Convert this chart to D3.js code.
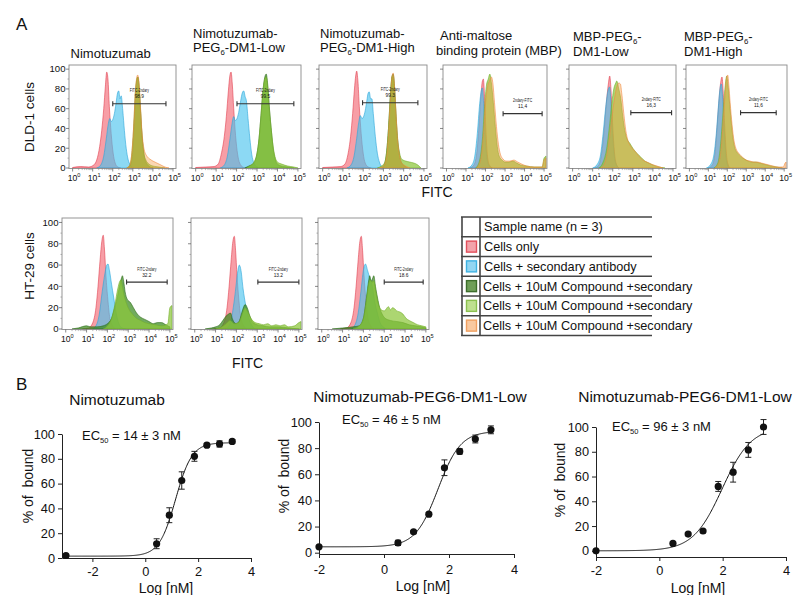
<!DOCTYPE html>
<html><head><meta charset="utf-8">
<script src="https://cdn.jsdelivr.net/npm/d3@7"></script>
<style>
body{margin:0;background:#fff}
svg{display:block}
text{font-family:"Liberation Sans",Arial,sans-serif;fill:#111}
</style>
</head><body>
<svg id="c" width="794" height="595"></svg>
<script>
// ================= DATA =================
// Panel A, DLD-1 row (x = log10 FITC, y = % of max)
const dldTitles = [["Nimotuzumab"],["Nimotuzumab-","PEG_6-DM1-Low"],["Nimotuzumab-","PEG_6-DM1-High"],["Anti-maltose","binding protein (MBP)"],["MBP-PEG_6-","DM1-Low"],["MBP-PEG_6-","DM1-High"]];
const dldGateNames = ["FITC-2ndary","FITC-2ndary","FITC-2ndary","2ndary-FITC","2ndary-FITC","2ndary-FITC"];
const dldGateValues = ["98.9","99.5","99.3","11,4","16,3","11,6"];
const dldGateRange = [[2.0,4.65],[2.02,4.8],[1.97,4.7],[2.9,4.9],[2.9,4.93],[2.7,4.58]];
const dldGateLevel = [65,65,66,55,56,56];

const dldRed = [
 [[0,0.5],[0.4,1.5],[0.8,1],[1.05,3],[1.2,8],[1.35,22],[1.45,38],[1.55,60],[1.63,82],[1.7,97],[1.76,90],[1.83,62],[1.92,35],[2.02,15],[2.12,5],[2.25,1],[2.4,0]],
 [[0,0.5],[0.5,1],[0.9,1.5],[1.1,4],[1.25,14],[1.4,32],[1.5,52],[1.6,78],[1.67,93],[1.73,97],[1.79,85],[1.86,60],[1.95,33],[2.05,14],[2.15,5],[2.3,1],[2.45,0]],
 [[0,0.5],[0.5,1],[0.9,1.5],[1.1,4],[1.25,14],[1.38,32],[1.48,55],[1.57,80],[1.63,93],[1.68,98],[1.74,88],[1.81,62],[1.9,35],[2.0,15],[2.1,5],[2.25,1],[2.4,0]],
 [[1.2,0],[1.4,3],[1.55,15],[1.65,38],[1.75,68],[1.83,87],[1.89,90],[1.95,72],[2.02,38],[2.1,12],[2.2,3],[2.35,0]],
 [[1.1,0],[1.3,3],[1.45,15],[1.57,38],[1.68,65],[1.78,85],[1.85,93],[1.91,80],[1.98,50],[2.06,22],[2.15,6],[2.3,0]],
 [[1.0,0],[1.2,3],[1.35,15],[1.45,38],[1.55,65],[1.64,85],[1.72,92],[1.78,78],[1.85,48],[1.93,20],[2.02,5],[2.15,0]]
];
const dldBlue = [
 [[1.2,0],[1.4,3],[1.55,12],[1.68,30],[1.78,45],[1.85,50],[1.93,47],[2.0,49],[2.08,55],[2.16,65],[2.24,76],[2.3,78],[2.36,70],[2.42,73],[2.5,58],[2.58,38],[2.67,20],[2.76,9],[2.88,3],[3.05,0]],
 [[1.2,0],[1.4,3],[1.55,12],[1.68,30],[1.78,45],[1.86,52],[1.94,48],[2.02,50],[2.1,56],[2.2,68],[2.28,76],[2.35,78],[2.42,72],[2.48,68],[2.56,50],[2.65,30],[2.74,14],[2.85,5],[3.0,1],[3.15,0]],
 [[1.2,0],[1.4,3],[1.55,12],[1.68,30],[1.78,46],[1.86,53],[1.94,50],[2.02,52],[2.1,58],[2.18,68],[2.25,76],[2.3,77],[2.37,70],[2.43,70],[2.5,55],[2.6,32],[2.7,15],[2.8,6],[2.95,1],[3.1,0]],
 [[1.1,0],[1.3,3],[1.45,12],[1.58,35],[1.7,65],[1.78,78],[1.84,81],[1.91,62],[1.98,32],[2.06,12],[2.16,3],[2.3,0]],
 [[1.0,0],[1.2,3],[1.38,12],[1.52,35],[1.65,62],[1.76,78],[1.84,82],[1.9,70],[1.97,42],[2.05,18],[2.14,5],[2.3,0]],
 [[0.9,0],[1.1,3],[1.28,12],[1.42,35],[1.52,60],[1.6,78],[1.68,85],[1.75,72],[1.82,45],[1.9,18],[1.98,5],[2.1,0]]
];
const dldDarkGreen = [
 [[2.75,0],[2.9,4],[3.0,20],[3.08,50],[3.15,78],[3.21,90],[3.25,92],[3.31,82],[3.38,58],[3.46,32],[3.55,14],[3.65,6],[3.8,2],[4.0,0]],
 [[2.4,0],[2.6,2],[2.8,4],[2.95,10],[3.1,30],[3.2,55],[3.3,80],[3.38,92],[3.45,95],[3.52,85],[3.6,62],[3.7,38],[3.8,18],[3.9,8],[4.0,4],[4.2,2],[4.5,1],[4.8,0]],
 [[2.9,0],[3.05,4],[3.15,15],[3.25,40],[3.35,75],[3.42,92],[3.48,95],[3.55,80],[3.62,52],[3.7,28],[3.8,12],[3.9,5],[4.05,2],[4.2,0]],
 null, null, null
];
const dldLightGreen = [
 [[2.7,0],[2.85,3],[2.95,15],[3.05,45],[3.12,75],[3.2,90],[3.25,92],[3.3,85],[3.38,60],[3.45,35],[3.55,15],[3.65,8],[3.8,4],[4.0,2],[4.3,1],[4.6,0]],
 [[2.5,0],[2.7,3],[2.85,6],[3.0,15],[3.1,30],[3.2,55],[3.3,80],[3.38,90],[3.45,92],[3.52,82],[3.6,60],[3.7,38],[3.8,20],[3.9,10],[4.0,6],[4.2,4],[4.5,2],[4.8,1],[5.0,0]],
 [[2.7,0],[2.9,2],[3.05,5],[3.15,15],[3.25,40],[3.35,75],[3.42,92],[3.48,94],[3.55,80],[3.62,55],[3.7,30],[3.8,15],[3.9,9],[4.1,7],[4.3,6],[4.5,5],[4.7,3],[4.85,0]],
 [[1.5,0],[1.7,8],[1.85,32],[1.95,62],[2.05,84],[2.14,90],[2.22,95],[2.3,86],[2.4,66],[2.5,42],[2.6,22],[2.7,12],[2.85,8],[3.0,6],[3.2,6],[3.4,7],[3.6,5],[3.8,3],[4.1,2],[4.5,1],[4.9,1],[5.0,10],[5.1,12]],
 [[1.3,0],[1.5,5],[1.7,20],[1.85,45],[1.95,65],[2.05,80],[2.15,86],[2.2,88],[2.3,80],[2.4,70],[2.5,52],[2.6,38],[2.7,30],[2.85,25],[3.0,20],[3.2,15],[3.4,11],[3.6,7],[3.8,5],[4.0,3],[4.3,1],[4.6,0]],
 [[1.3,0],[1.5,5],[1.65,25],[1.75,50],[1.85,75],[1.93,90],[1.97,93],[2.03,85],[2.1,70],[2.2,48],[2.3,30],[2.4,20],[2.55,15],[2.7,12],[2.9,9],[3.1,7],[3.3,6],[3.5,6],[3.7,5],[3.9,4],[4.1,3],[4.3,2],[4.6,1],[4.9,0]]
];
const dldOrange = [
 [[2.7,0],[2.85,3],[2.95,15],[3.05,45],[3.12,75],[3.2,92],[3.24,94],[3.3,88],[3.38,62],[3.45,38],[3.55,20],[3.7,12],[3.85,9],[4.0,7],[4.2,5],[4.4,3],[4.6,1],[4.8,0]],
 null,
 [[2.8,0],[3.0,2],[3.15,10],[3.25,35],[3.35,72],[3.42,92],[3.48,96],[3.55,82],[3.62,55],[3.7,28],[3.8,12],[3.9,5],[4.1,2],[4.3,0]],
 [[1.55,0],[1.75,8],[1.9,35],[2.0,65],[2.1,82],[2.2,88],[2.3,92],[2.38,85],[2.46,66],[2.56,42],[2.66,24],[2.76,14],[2.9,9],[3.05,7],[3.25,7],[3.45,8],[3.65,6],[3.85,4],[4.1,2],[4.5,1],[4.9,1],[5.0,8],[5.1,10]],
 [[1.4,0],[1.6,5],[1.8,25],[1.95,50],[2.1,72],[2.2,82],[2.3,86],[2.38,85],[2.45,75],[2.55,55],[2.65,38],[2.75,28],[2.9,22],[3.1,17],[3.3,12],[3.5,8],[3.7,6],[3.9,4],[4.2,2],[4.5,0]],
 [[1.35,0],[1.55,5],[1.7,25],[1.8,52],[1.9,78],[1.97,92],[2.02,94],[2.08,84],[2.15,66],[2.25,44],[2.35,28],[2.45,20],[2.6,15],[2.8,11],[3.0,8],[3.2,7],[3.4,6],[3.6,6],[3.8,5],[4.0,4],[4.2,3],[4.4,2],[4.7,1],[4.95,1],[5.05,5],[5.1,6]]
];

// Panel A, HT-29 row
const htGateNames = ["FITC-2ndary","FITC-2ndary","FITC-2ndary"];
const htGateValues = ["32.2","13.2","18.6"];
const htGateRange = [[2.92,4.87],[3.03,5.0],[3.0,4.87]];
const htGateLevel = [44,44,44];
const htRed = [
 [[0.8,0],[1.1,1],[1.3,6],[1.45,20],[1.55,40],[1.65,65],[1.73,82],[1.8,88],[1.86,75],[1.93,50],[2.02,28],[2.12,10],[2.25,3],[2.4,0]],
 [[0.9,0],[1.2,1],[1.4,6],[1.55,20],[1.65,40],[1.75,65],[1.83,82],[1.9,87],[1.96,74],[2.03,50],[2.12,27],[2.22,10],[2.35,3],[2.5,0]],
 [[0.9,0],[1.2,1],[1.4,6],[1.55,20],[1.65,40],[1.75,65],[1.83,82],[1.9,87],[1.96,74],[2.03,50],[2.12,27],[2.22,10],[2.35,3],[2.5,0]]
];
const htBlue = [
 [[1.3,0],[1.5,5],[1.62,15],[1.75,35],[1.88,52],[1.97,60],[2.03,61],[2.1,55],[2.2,42],[2.3,30],[2.42,15],[2.55,5],[2.7,1],[2.9,0]],
 [[1.5,0],[1.7,5],[1.85,20],[1.95,35],[2.05,52],[2.14,60],[2.22,55],[2.32,38],[2.45,22],[2.6,10],[2.75,3],[2.9,0]],
 [[1.4,0],[1.6,4],[1.75,15],[1.88,35],[2.0,55],[2.1,61],[2.2,55],[2.3,48],[2.43,40],[2.55,25],[2.67,15],[2.8,6],[2.95,2],[3.1,0]]
];
const htDarkGreen = [
 [[0.3,0],[0.6,1],[1.0,3],[1.2,2],[1.5,2],[1.8,3],[2.0,5],[2.2,10],[2.35,20],[2.5,32],[2.6,42],[2.68,48],[2.72,50],[2.78,45],[2.85,35],[2.95,28],[3.1,25],[3.25,20],[3.4,15],[3.6,11],[3.8,9],[4.0,7],[4.2,5],[4.4,6],[4.6,6],[4.8,4],[5.0,2]],
 [[0.5,0],[0.8,1],[1.0,2],[1.2,4],[1.35,8],[1.5,12],[1.62,14],[1.72,15],[1.8,10],[1.9,6],[2.0,5],[2.15,8],[2.3,18],[2.42,23],[2.52,20],[2.65,12],[2.8,6],[3.0,4],[3.3,3],[3.6,2],[4.0,2],[4.5,1],[5.0,0]],
 [[0.5,0],[1.0,1],[1.5,2],[1.8,3],[2.0,10],[2.15,30],[2.25,45],[2.3,50],[2.38,45],[2.45,48],[2.5,50],[2.58,40],[2.67,30],[2.78,20],[2.9,14],[3.05,10],[3.3,8],[3.6,7],[3.9,6],[4.2,4],[4.5,3],[4.8,2],[5.0,1]]
];
const htLightGreen = [
 [[1.8,0],[2.0,3],[2.2,10],[2.35,22],[2.5,38],[2.6,45],[2.65,46],[2.72,40],[2.8,32],[2.9,25],[3.0,20],[3.2,14],[3.4,10],[3.6,8],[3.8,6],[4.0,5],[4.3,4],[4.6,3],[4.9,5],[5.0,20],[5.1,22]],
 [[1.0,0],[1.3,2],[1.5,5],[1.7,8],[1.9,5],[2.1,6],[2.3,15],[2.42,20],[2.55,16],[2.7,10],[2.9,6],[3.1,5],[3.3,4],[3.5,5],[3.7,3],[3.9,4],[4.1,3],[4.3,4],[4.5,2],[4.8,3],[5.0,6],[5.1,7]],
 [[1.5,0],[1.8,3],[2.0,10],[2.15,28],[2.25,42],[2.32,46],[2.42,44],[2.5,45],[2.6,35],[2.7,25],[2.85,18],[3.0,17],[3.1,19],[3.2,21],[3.3,18],[3.4,20],[3.5,19],[3.6,17],[3.75,16],[3.9,14],[4.05,10],[4.2,8],[4.4,6],[4.6,4],[4.8,3],[5.0,2]]
];

const legendRows = ["Sample name (n = 3)","Cells only","Cells + secondary antibody","Cells + 10uM Compound +secondary","Cells + 10uM Compound +secondary","Cells + 10uM Compound +secondary"];
const logTicks = [0,1,2,3,4,5];
const countTicks = [0,20,40,60,80,100];

// Panel B (x = log [nM], y = % of bound)
const bTitles = ["Nimotuzumab","Nimotuzumab-PEG6-DM1-Low","Nimotuzumab-PEG6-DM1-Low"];
const bEC50 = [14,46,96];
const bEC50err = [3,5,3];
const b1x = [-3,0.43,0.91,1.38,1.86,2.33,2.81,3.29];
const b1y = [2,11.5,34.5,62.5,82,91,92,94];
const b1e = [0,4,6,7,4,1.5,2.5,1.5];
const b2x = [-2,0.43,0.91,1.38,1.86,2.33,2.81,3.29];
const b2y = [4.5,7.5,16,29.5,65,77.5,87,94];
const b2e = [1,2,1,1,6,2,3,3];
const b3x = [-2,0.43,0.91,1.38,1.86,2.33,2.81,3.29];
const b3y = [0,6,13.5,16,52,63.5,81.5,100];
const b3e = [0,1,1,1,4,8,6,6];
// fitted 4-parameter logistic: [bottom, top, hill]
const bFit = [[1.5,93,1.4],[4.5,93,1.25],[0,100,0.95]];
const bXTicks = [-2,0,2,4];
const bYTicks = [0,20,40,60,80,100];

// ================= DRAW =================
const svg = d3.select("#c");
const defs = svg.append("defs");
const COL = {
  red:{fill:"#f2636f",stroke:"#e0404f",op:0.62},
  blue:{fill:"#46c1ee",stroke:"#2aa5d8",op:0.62},
  dg:{fill:"#3a8a1e",stroke:"#2e6a1a",op:0.72},
  lg:{fill:"#8cc63a",stroke:"#74ae2c",op:0.72},
  or:{fill:"#f59a40",stroke:"#ef8a40",op:0.4}
};

function richText(g, x, y, str, size, anchor){
  const t = g.append("text").attr("x",x).attr("y",y).attr("font-size",size).attr("text-anchor",anchor||"start");
  const parts = str.split(/_(\d)/);
  let shifted = false;
  parts.forEach((p,i)=>{
    if(i%2===0){ const ts=t.append("tspan").text(p); if(shifted){ts.attr("dy",-3);shifted=false;} }
    else { t.append("tspan").attr("font-size",size*0.6).attr("dy",3).text(p); shifted=true; }
  });
  return t;
}

let clipId = 0;
function histPanel(x0,x1,y0,y1,series,gate,showYLabels){
  const g = svg.append("g");
  const x = d3.scaleLinear().domain([-0.18,5.15]).range([x0,x1]);
  const yy = d3.scaleLinear().domain([0,100]).range([y1-0.5, y0+ (y1-y0)*0.04]);
  const id = "clip"+(clipId++);
  defs.append("clipPath").attr("id",id).append("rect").attr("x",x0).attr("y",y0).attr("width",x1-x0).attr("height",y1-y0);
  const area = d3.area().x(d=>x(d[0])).y0(yy(0)).y1(d=>yy(d[1])).curve(d3.curveMonotoneX);
  const pg = g.append("g").attr("clip-path","url(#"+id+")");
  series.forEach(s=>{
    if(!s.pts) return;
    pg.append("path").datum(s.pts).attr("d",area)
      .attr("fill",s.c.fill).attr("fill-opacity",s.c.op)
      .attr("stroke",s.c.stroke).attr("stroke-width",0.7).attr("stroke-opacity",0.85);
  });
  // frame
  g.append("rect").attr("x",x0).attr("y",y0).attr("width",x1-x0).attr("height",y1-y0)
    .attr("fill","none").attr("stroke","#8a8a8a").attr("stroke-width",0.9);
  // x ticks
  logTicks.forEach(k=>{
    g.append("line").attr("x1",x(k)).attr("x2",x(k)).attr("y1",y1).attr("y2",y1+3).attr("stroke","#555").attr("stroke-width",0.7);
    const t = g.append("text").attr("x",x(k)+1.5).attr("y",y1+12).attr("text-anchor","middle").attr("font-size",8.6).attr("fill","#222");
    t.append("tspan").text("10");
    t.append("tspan").attr("font-size",5.6).attr("dy",-3.6).text(k);
    if(k<5) for(let m=2;m<10;m++){
      const xm = x(k+Math.log10(m));
      g.append("line").attr("x1",xm).attr("x2",xm).attr("y1",y1).attr("y2",y1+1.6).attr("stroke","#777").attr("stroke-width",0.5);
    }
  });
  countTicks.forEach(v=>{
    g.append("line").attr("x1",x0-3).attr("x2",x0).attr("y1",yy(v)).attr("y2",yy(v)).attr("stroke","#555").attr("stroke-width",0.7);
    if(showYLabels) g.append("text").attr("x",x0-3.5).attr("y",yy(v)+3.3).attr("text-anchor","end").attr("font-size",9.6).attr("fill","#222").text(v);
  });
  for(let v=10; v<100; v+=20){
    g.append("line").attr("x1",x0-1.6).attr("x2",x0).attr("y1",yy(v)).attr("y2",yy(v)).attr("stroke","#777").attr("stroke-width",0.5);
  }
  // gate
  const gy = yy(gate.level), ga = x(gate.range[0]), gb = x(gate.range[1]);
  g.append("line").attr("x1",ga).attr("x2",gb).attr("y1",gy).attr("y2",gy).attr("stroke","#333").attr("stroke-width",1.1);
  [ga,gb].forEach(px=>g.append("line").attr("x1",px).attr("x2",px).attr("y1",gy-2.5).attr("y2",gy+2.5).attr("stroke","#333").attr("stroke-width",1.1));
  const cx = (ga+gb)/2;
  g.append("text").attr("x",cx).attr("y",gy-11.5).attr("text-anchor","middle").attr("font-size",4.8).attr("fill","#444")
    .attr("textLength",19).attr("lengthAdjust","spacingAndGlyphs").text(gate.name);
  g.append("text").attr("x",cx).attr("y",gy-5.5).attr("text-anchor","middle").attr("font-size",4.8).attr("fill","#444").text(gate.value);
}

// DLD-1 row
const dldX = [[69,176],[192,301],[319,427],[443,547],[569,676],[686,787]];
dldX.forEach((r,i)=>{
  histPanel(r[0],r[1],65,168.5,[
    {pts:dldRed[i],c:COL.red},{pts:dldBlue[i],c:COL.blue},{pts:dldDarkGreen[i],c:COL.dg},
    {pts:dldLightGreen[i],c:COL.lg},{pts:dldOrange[i],c:COL.or}],
    {level:dldGateLevel[i],range:dldGateRange[i],name:dldGateNames[i],value:dldGateValues[i]}, i===0);
});
const dldTitlePos = [
  [[110.7,57.5,"middle"]],
  [[193,38],[193,52]],
  [[320,38],[320,52]],
  [[440,40],[436,55]],
  [[573,41],[573,56]],
  [[684,41],[684,56]]
];
dldTitles.forEach((lines,i)=>{
  lines.forEach((s,j)=>{
    const p = dldTitlePos[i][j];
    richText(svg,p[0],p[1],s,13,p[2]||"start");
  });
});

// HT-29 row
const htX = [[62,173],[191,302],[318,429]];
htX.forEach((r,i)=>{
  histPanel(r[0],r[1],218,329.5,[
    {pts:htRed[i],c:COL.red},{pts:htBlue[i],c:COL.blue},{pts:htDarkGreen[i],c:COL.dg},
    {pts:htLightGreen[i],c:COL.lg}],
    {level:htGateLevel[i],range:htGateRange[i],name:htGateNames[i],value:htGateValues[i]}, i===0);
});

// labels A
svg.append("text").attr("x",16).attr("y",30).attr("font-size",17).text("A");
svg.append("text").attr("x",16).attr("y",390).attr("font-size",17).text("B");
svg.append("text").attr("transform","translate(33.5,117) rotate(-90)").attr("text-anchor","middle").attr("font-size",13.5).text("DLD-1 cells");
svg.append("text").attr("transform","translate(33.5,266) rotate(-90)").attr("text-anchor","middle").attr("font-size",13.5).text("HT-29 cells");
svg.append("text").attr("x",437).attr("y",197).attr("text-anchor","middle").attr("font-size",14).text("FITC");
svg.append("text").attr("x",247.5).attr("y",368).attr("text-anchor","middle").attr("font-size",14).text("FITC");

// Legend table
const lgX0 = 462, lgX1 = 652, lgDiv = 480, lgY0 = 217, lgRow = 19.75;
const swatch = [null,
  {f:"#f3a3aa",s:"#e2505c"},{f:"#93d6f2",s:"#3fb2e2"},{f:"#6f9e58",s:"#3e6e2c"},{f:"#bfe090",s:"#8cc050"},{f:"#f9c9a0",s:"#f0a060"}];
const lg = svg.append("g");
legendRows.forEach((s,i)=>{
  const yc = lgY0 + lgRow*(i+0.5);
  lg.append("text").attr("x",lgDiv+4 - (i>=3?1:0)).attr("y",yc+4.6).attr("font-size",12.7).text(s);
  if(swatch[i]) lg.append("rect").attr("x",lgX0+4.5).attr("y",yc-5.5).attr("width",10).attr("height",11)
     .attr("fill",swatch[i].f).attr("stroke",swatch[i].s).attr("stroke-width",1.4);
});
for(let i=0;i<=legendRows.length;i++){
  lg.append("line").attr("x1",lgX0-1).attr("x2",lgX1).attr("y1",lgY0+lgRow*i).attr("y2",lgY0+lgRow*i).attr("stroke","#444").attr("stroke-width",1.6);
}
lg.append("line").attr("x1",lgX0).attr("x2",lgX0).attr("y1",lgY0).attr("y2",lgY0+lgRow*legendRows.length).attr("stroke","#444").attr("stroke-width",1.6);
lg.append("line").attr("x1",lgDiv).attr("x2",lgDiv).attr("y1",lgY0).attr("y2",lgY0+lgRow*legendRows.length).attr("stroke","#444").attr("stroke-width",1.6);

// ========= Panel B =========
function logistic(p, ec, x){ return p[0] + (p[1]-p[0])/(1+Math.pow(10,(Math.log10(ec)-x)*p[2])); }
function bPanel(cfg){
  const g = svg.append("g");
  const x = d3.scaleLinear().domain(cfg.xd).range(cfg.xr);
  const y = d3.scaleLinear().domain(cfg.yd).range(cfg.yr);
  const ax = g.append("g").attr("transform",`translate(0,${cfg.yr[0]})`)
    .call(d3.axisBottom(x).tickValues(bXTicks).tickSize(4).tickSizeOuter(0).tickFormat(d=>String(d)));
  const ay = g.append("g").attr("transform",`translate(${cfg.xr[0]},0)`)
    .call(d3.axisLeft(y).tickValues(bYTicks).tickSize(4).tickSizeOuter(0));
  [ax,ay].forEach(a=>{
    a.selectAll("path,line").attr("stroke","#222").attr("stroke-width",1);
    a.selectAll("text").attr("font-size",12.8).attr("font-family","'Liberation Sans',Arial,sans-serif").attr("fill","#222");
  });
  ax.selectAll("text").attr("y",cfg.tickY - cfg.yr[0]).attr("dy",null);
  // fit curve
  const xs = d3.range(cfg.xs[0], cfg.xs[1]+0.001, 0.02);
  g.append("path").datum(xs).attr("fill","none").attr("stroke","#111").attr("stroke-width",1)
    .attr("d", d3.line().x(d=>x(d)).y(d=>y(logistic(cfg.fit,cfg.ec,d))));
  // error bars
  cfg.px.forEach((xv,i)=>{
    const e = cfg.pe[i]; if(!e) return;
    const X = x(xv), Y1 = y(cfg.py[i]-e), Y2 = y(cfg.py[i]+e);
    g.append("line").attr("x1",X).attr("x2",X).attr("y1",Y1).attr("y2",Y2).attr("stroke","#222").attr("stroke-width",1);
    [Y1,Y2].forEach(yv=>g.append("line").attr("x1",X-3).attr("x2",X+3).attr("y1",yv).attr("y2",yv).attr("stroke","#222").attr("stroke-width",1));
  });
  g.selectAll("circle.pt").data(cfg.px).enter().append("circle")
    .attr("cx",d=>x(d)).attr("cy",(d,i)=>y(cfg.py[i])).attr("r",3.6).attr("fill","#111");
  // labels
  g.append("text").attr("x",cfg.title[0]).attr("y",cfg.title[1]).attr("text-anchor","middle").attr("font-size",15.5).text(cfg.titleText);
  const et = g.append("text").attr("x",cfg.ecPos[0]).attr("y",cfg.ecPos[1]).attr("font-size",13);
  et.append("tspan").text("EC");
  et.append("tspan").attr("font-size",7.5).attr("dy",3).text("50");
  et.append("tspan").attr("dy",-3).text(` = ${cfg.ec} \u00b1 ${cfg.ecErr} nM`);
  g.append("text").attr("x",cfg.xl[0]).attr("y",cfg.xl[1]).attr("text-anchor","middle").attr("font-size",14).text("Log [nM]");
  g.append("text").attr("transform",`translate(${cfg.yl[0]},${cfg.yl[1]}) rotate(-90)`).attr("text-anchor","middle")
    .attr("font-size",14).style("white-space","pre").text("% of  bound");
}
bPanel({xd:[-3.15,4],xr:[62,251],yd:[0,100],yr:[558,434],px:b1x,py:b1y,pe:b1e,fit:bFit[0],ec:bEC50[0],ecErr:bEC50err[0],xs:[-3,3.3],
  title:[117,405],titleText:bTitles[0],ecPos:[82,440],xl:[166,593],yl:[33,486],tickY:576});
bPanel({xd:[-2,4],xr:[319,514],yd:[-1,100],yr:[554,422],px:b2x,py:b2y,pe:b2e,fit:bFit[1],ec:bEC50[1],ecErr:bEC50err[1],xs:[-2,3.3],
  title:[420,402],titleText:bTitles[1],ecPos:[342,424],xl:[423,591],yl:[289,476],tickY:574});
bPanel({xd:[-2,4],xr:[596,786],yd:[-5,100],yr:[557,427],px:b3x,py:b3y,pe:b3e,fit:bFit[2],ec:bEC50[2],ecErr:bEC50err[2],xs:[-2,3.3],
  title:[685,402],titleText:bTitles[2],ecPos:[612,431],xl:[698,593],yl:[565,480],tickY:575});
</script>
</body></html>
